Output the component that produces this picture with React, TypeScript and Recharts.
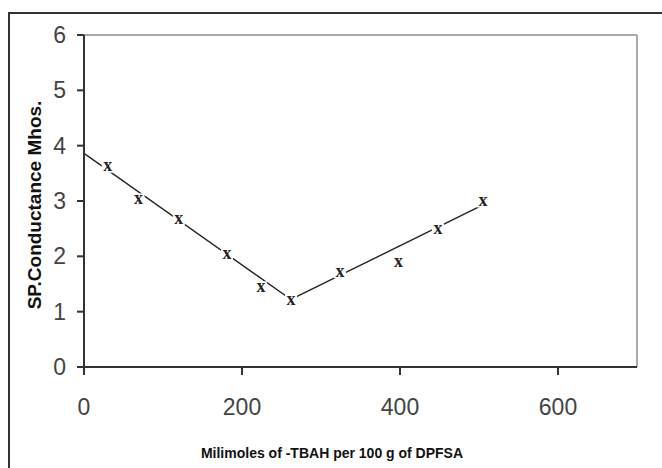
import React from 'react';
import { ComposedChart, XAxis, YAxis, Line, Scatter, ReferenceLine, Label } from 'recharts';

const xValues = [30, 69, 120, 181, 224, 262, 324, 398, 448, 505];
const yValues = [3.62, 3.03, 2.66, 2.04, 1.44, 1.2, 1.71, 1.89, 2.49, 2.99];
const fit1X = [0, 262];
const fit1Y = [3.86, 1.22];
const fit2X = [262, 505];
const fit2Y = [1.22, 2.93];
const xTicks = [0, 200, 400, 600];
const yTicks = [0, 1, 2, 3, 4, 5, 6];
const xTitle = 'Milimoles of -TBAH per 100 g of DPFSA';
const yTitle = 'SP.Conductance Mhos.';

const points = xValues.map((x, i) => ({ x, y: yValues[i] }));
const fit1 = fit1X.map((x, i) => ({ x, y: fit1Y[i] }));
const fit2 = fit2X.map((x, i) => ({ x, y: fit2Y[i] }));

const XMark = (props: any) => {
  const { cx, cy } = props;
  if (cx == null || cy == null) return null;
  return (
    <g>
      <rect x={cx - 6} y={cy - 6} width={12} height={12} fill="#fff" />
      <text
        x={cx}
        y={cy + 4.5}
        textAnchor="middle"
        fontFamily="Liberation Serif, serif"
        fontSize={18}
        fontWeight="bold"
        fill="#222"
      >
        x
      </text>
    </g>
  );
};

const font = 'Liberation Sans, Arial, sans-serif';

export default function App() {
  return (
    <div
      style={{
        position: 'absolute',
        left: 0,
        top: 0,
        width: 662,
        height: 468,
        overflow: 'hidden',
        background: '#fff',
      }}
    >
      <div
        style={{
          position: 'absolute',
          left: 8,
          top: 12,
          width: 720,
          height: 520,
          border: '2px solid #333',
        }}
      />
      <div style={{ position: 'absolute', left: 0, top: 0 }}>
        <ComposedChart
          width={662}
          height={468}
          margin={{ top: 35, right: 25, left: 24, bottom: 0 }}
        >
          <XAxis
            type="number"
            dataKey="x"
            domain={[0, 700]}
            ticks={xTicks}
            height={101}
            tickSize={8}
            tickMargin={24}
            stroke="#333"
            strokeWidth={2}
            tick={{ fontSize: 23, fill: '#444', fontFamily: font }}
            allowDataOverflow
          >
            <Label
              content={() => (
                <text
                  x={332}
                  y={458}
                  textAnchor="middle"
                  fontFamily={font}
                  fontWeight="bold"
                  fontSize={14}
                  fill="#111"
                >
                  {xTitle}
                </text>
              )}
            />
          </XAxis>
          <YAxis
            type="number"
            dataKey="y"
            domain={[0, 6]}
            ticks={yTicks}
            width={60}
            tickSize={7}
            tickMargin={11}
            stroke="#333"
            strokeWidth={2}
            tick={{ fontSize: 23, fill: '#444', fontFamily: font }}
            allowDataOverflow
          >
            <Label
              content={() => (
                <text
                  x={34}
                  y={205}
                  transform="rotate(-90, 34, 205)"
                  textAnchor="middle"
                  dominantBaseline="central"
                  fontFamily={font}
                  fontWeight="bold"
                  fontSize={19}
                  fill="#111"
                >
                  {yTitle}
                </text>
              )}
            />
          </YAxis>
          <ReferenceLine y={6} stroke="#aaa" strokeWidth={2} />
          <ReferenceLine x={700} stroke="#aaa" strokeWidth={2} />
          <Line
            data={fit1}
            dataKey="y"
            stroke="#222"
            strokeWidth={1.4}
            dot={false}
            isAnimationActive={false}
            type="linear"
          />
          <Line
            data={fit2}
            dataKey="y"
            stroke="#222"
            strokeWidth={1.4}
            dot={false}
            isAnimationActive={false}
            type="linear"
          />
          <Scatter
            data={points}
            dataKey="y"
            shape={<XMark />}
            isAnimationActive={false}
          />
        </ComposedChart>
      </div>
    </div>
  );
}
